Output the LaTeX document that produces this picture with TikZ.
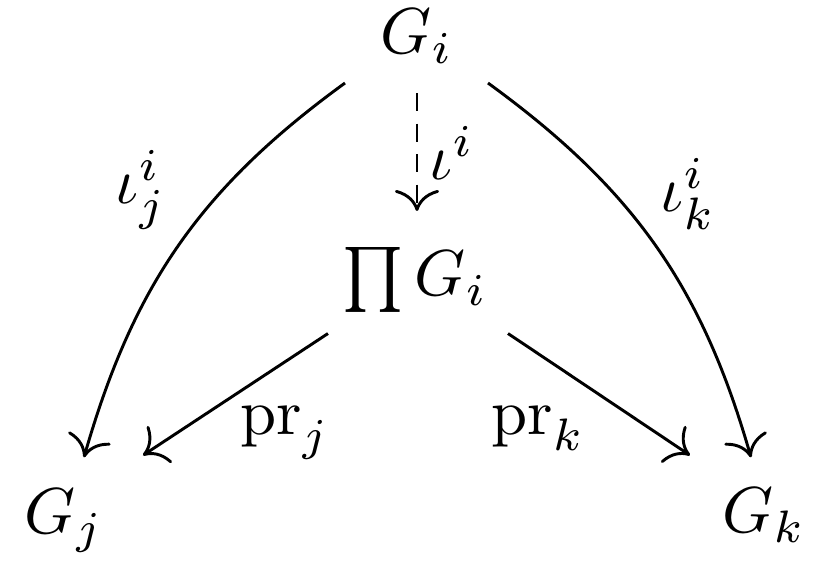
\documentclass[tikz,border=0pt]{standalone}
\usetikzlibrary{arrows.meta}
\begin{document}
\begin{tikzpicture}[x=0.154pt,y=0.154pt,
  obj/.style={inner sep=0pt,anchor=base},
  lbl/.style={inner sep=0pt},
  arr/.style={line width=0.45pt,-{Computer Modern Rightarrow[scale=1.25]}},
  dsh/.style={dash pattern=on 2.8pt off 1.9pt}]
\useasboundingbox (0,0) rectangle (821,563);
\node[obj] (gi) at (417,509) {$G_i$};
\node[obj] (pg) at (415,267) {$\prod G_i$};
\node[obj] (gj) at (64,29) {$G_j$};
\node[obj] (gk) at (764,30) {$G_k$};
% connectors
\draw[arr] ([shift={(-72,-18)}]gi.south) to[out=216,in=74] ([shift={(20,31)}]gj.north);
\draw[arr] ([shift={(71,-18)}]gi.south) to[out=-36,in=106] ([shift={(-13,30)}]gk.north);
\draw[arr,dsh] ([shift={(0,-28)}]gi.south) -- ([shift={(2,35)}]pg.north);
\draw[arr] ([shift={(-87,-20)}]pg.south) -- ([shift={(79,33)}]gj.north);
\draw[arr] ([shift={(93,-20)}]pg.south) -- ([shift={(-74,32)}]gk.north);
% labels
\node[lbl] (l1) at (141,373) {$\iota^i_j$};
\node[lbl] (l2) at (452,410) {$\iota^i$};
\node[lbl] (l3) at (688,369) {$\iota^i_k$};
\node[lbl,anchor=base] (l4) at (285,128) {$\mathrm{pr}_j$};
\node[lbl,anchor=base] (l5) at (538,128) {$\mathrm{pr}_k$};
\end{tikzpicture}
\end{document}
